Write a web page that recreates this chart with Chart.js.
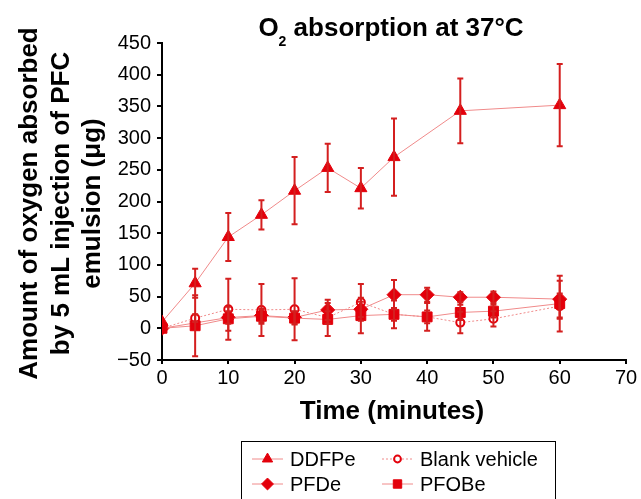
<!DOCTYPE html>
<html><head><meta charset="utf-8">
<script src="https://cdn.jsdelivr.net/npm/chart.js@4/dist/chart.umd.min.js"></script>
<style>html,body{margin:0;padding:0;background:#fff;}#wrap{width:641px;height:499px;position:relative;}</style>
</head><body><div id="wrap"><canvas id="c" width="641" height="499"></canvas></div>
<script>
const chartTitle = ['O', '2', ' absorption at 37°C'];
const yTitleLines = ['Amount of oxygen absorbed', 'by 5 mL injection of PFC', 'emulsion (μg)'];
const xTitle = 'Time (minutes)';
const seriesNames = ['DDFPe', 'Blank vehicle', 'PFDe', 'PFOBe'];

const ddfpeTimes  = [0, 5, 10, 15, 20, 25, 30, 35, 45, 60];
const ddfpeValues = [10, 71, 144, 179, 217, 253, 221, 270, 343, 352];
const ddfpeErrors = [0, 23, 38, 23, 53, 38, 32, 61, 51, 65];

const blankTimes  = [0, 5, 10, 15, 20, 25, 30, 35, 40, 45, 50, 60];
const blankValues = [0, 16, 30, 29, 30, 17, 41, 22, 18, 9, 15, 35];
const blankErrors = [0, 6, 48, 41, 49, 10, 29, 10, 10, 17, 12, 20];

const pfdeTimes  = [0, 10, 15, 20, 25, 30, 35, 40, 45, 50, 60];
const pfdeValues = [0, 17, 20, 17, 29, 30, 53, 53, 49, 49, 46];
const pfdeErrors = [0, 10, 10, 10, 16, 12, 23, 11, 8, 9, 29];

const pfobeTimes  = [0, 5, 10, 15, 20, 25, 30, 35, 40, 45, 50, 60];
const pfobeValues = [0, 4, 15, 19, 16, 14, 20, 22, 18, 25, 27, 39];
const pfobeErrors = [0, 48, 19, 12, 10, 26, 28, 22, 22, 12, 10, 44];

const RED = '#e3000b';
const LINE = '#f08a8a';
const ERR = '#d41f1f';
const FONT = '"Liberation Sans", Arial, sans-serif';

function pts(t, v) { return t.map((x, i) => ({ x: x, y: v[i] })); }

const styles = {
  'DDFPe':         { pointStyle: 'triangle', radius: 7, fill: RED, dash: [] },
  'Blank vehicle': { pointStyle: 'circle', radius: 4, fill: '#ffffff', dash: [2, 2] },
  'PFDe':          { pointStyle: 'rectRot', radius: 7, fill: RED, dash: [] },
  'PFOBe':         { pointStyle: 'rect', radius: 7, fill: RED, dash: [] }
};

function ds(name, t, v, e) {
  const s = styles[name];
  return {
    label: name, data: pts(t, v), errors: e,
    borderColor: LINE, borderWidth: 1, borderDash: s.dash,
    pointStyle: s.pointStyle, pointRadius: s.radius, pointHoverRadius: s.radius,
    pointBackgroundColor: s.fill, pointBorderColor: RED,
    pointBorderWidth: name === 'Blank vehicle' ? 2 : 1,
    tension: 0, fill: false
  };
}

const errorBars = {
  id: 'errorBars',
  afterDatasetsDraw(chart) {
    const ctx = chart.ctx, ys = chart.scales.y;
    ctx.save();
    ctx.strokeStyle = ERR; ctx.lineWidth = 2;
    chart.data.datasets.forEach((d, di) => {
      const meta = chart.getDatasetMeta(di);
      meta.data.forEach((p, i) => {
        const e = d.errors[i];
        if (!e) return;
        const v = d.data[i].y;
        const top = ys.getPixelForValue(v + e), bot = ys.getPixelForValue(v - e);
        ctx.beginPath();
        ctx.moveTo(p.x, top); ctx.lineTo(p.x, bot);
        ctx.moveTo(p.x - 3, top); ctx.lineTo(p.x + 3, top);
        ctx.moveTo(p.x - 3, bot); ctx.lineTo(p.x + 3, bot);
        ctx.stroke();
      });
    });
    ctx.restore();
  }
};

const decorations = {
  id: 'decorations',
  afterDraw(chart) {
    const ctx = chart.ctx, ca = chart.chartArea;
    ctx.save();
    ctx.fillStyle = '#000';
    // title
    ctx.font = 'bold 26px ' + FONT;
    const w0 = ctx.measureText(chartTitle[0]).width;
    ctx.font = 'bold 14px ' + FONT;
    const w1 = ctx.measureText(chartTitle[1]).width;
    ctx.font = 'bold 26px ' + FONT;
    const w2 = ctx.measureText(chartTitle[2]).width;
    let x = (ca.left + ca.right) / 2 - 3 - (w0 + w1 + w2) / 2;
    ctx.textBaseline = 'alphabetic'; ctx.textAlign = 'left';
    ctx.fillText(chartTitle[0], x, 36); x += w0;
    ctx.font = 'bold 14px ' + FONT;
    ctx.fillText(chartTitle[1], x, 46); x += w1;
    ctx.font = 'bold 26px ' + FONT;
    ctx.fillText(chartTitle[2], x, 36);
    // y title
    const cy = (ca.top + ca.bottom) / 2 + 2;
    const baseX = [37, 68.5, 100];
    yTitleLines.forEach((line, i) => {
      ctx.save();
      ctx.translate(baseX[i], cy);
      ctx.rotate(-Math.PI / 2);
      ctx.textAlign = 'center';
      ctx.textBaseline = 'alphabetic';
      ctx.fillText(line, 0, 0);
      ctx.restore();
    });
    // x title
    ctx.textAlign = 'center'; ctx.textBaseline = 'alphabetic';
    ctx.fillText(xTitle, (ca.left + ca.right) / 2 - 2, 419);
    // legend box
    ctx.strokeStyle = '#000'; ctx.lineWidth = 1;
    ctx.strokeRect(241.5, 441.5, 314, 70);
    const items = [
      { name: seriesNames[0], lx: 252, tx: 290, y: 459 },
      { name: seriesNames[1], lx: 382, tx: 420, y: 459 },
      { name: seriesNames[2], lx: 252, tx: 290, y: 484 },
      { name: seriesNames[3], lx: 382, tx: 420, y: 484 }
    ];
    ctx.font = '20px ' + FONT;
    ctx.textAlign = 'left'; ctx.textBaseline = 'middle';
    items.forEach(it => {
      const s = styles[it.name];
      ctx.save();
      ctx.strokeStyle = LINE; ctx.lineWidth = 1; ctx.setLineDash(s.dash);
      ctx.beginPath(); ctx.moveTo(it.lx, it.y); ctx.lineTo(it.lx + 31, it.y); ctx.stroke();
      ctx.restore();
      ctx.save();
      ctx.fillStyle = s.fill; ctx.strokeStyle = RED;
      ctx.lineWidth = it.name === 'Blank vehicle' ? 2 : 1;
      Chart.helpers.drawPoint(ctx, { pointStyle: s.pointStyle, radius: s.radius * 0.85, borderWidth: ctx.lineWidth, rotation: 0 }, it.lx + 15.5, it.y);
      ctx.restore();
      ctx.fillStyle = '#000';
      ctx.fillText(it.name, it.tx, it.y + 1);
    });
    ctx.restore();
  }
};

new Chart(document.getElementById('c'), {
  type: 'line',
  data: {
    datasets: [
      ds('PFOBe', pfobeTimes, pfobeValues, pfobeErrors),
      ds('DDFPe', ddfpeTimes, ddfpeValues, ddfpeErrors),
      ds('PFDe', pfdeTimes, pfdeValues, pfdeErrors),
      ds('Blank vehicle', blankTimes, blankValues, blankErrors)
    ]
  },
  options: {
    responsive: false, animation: false, devicePixelRatio: 1,
    layout: { padding: { left: 0, top: 43, right: 15, bottom: 0 } },
    plugins: { legend: { display: false }, title: { display: false }, tooltip: { enabled: false } },
    scales: {
      x: {
        type: 'linear', min: 0, max: 70,
        afterFit(s) { s.height = 139; },
        ticks: { stepSize: 10, color: '#000', font: { family: FONT, size: 20 }, padding: 2, maxRotation: 0 },
        grid: { display: true, drawOnChartArea: false, drawTicks: true, tickLength: 4, color: '#000', lineWidth: 2 },
        border: { display: true, color: '#000', width: 2 }
      },
      y: {
        min: -50, max: 450,
        afterFit(s) { s.width = 162; },
        ticks: { stepSize: 50, color: '#000', font: { family: FONT, size: 20 }, padding: 6,
                 callback: v => String(v).replace('-', '\u2212') },
        grid: { display: true, drawOnChartArea: false, drawTicks: true, tickLength: 5, color: '#000', lineWidth: 2 },
        border: { display: true, color: '#000', width: 2 }
      }
    }
  },
  plugins: [errorBars, decorations]
});
</script></body></html>
